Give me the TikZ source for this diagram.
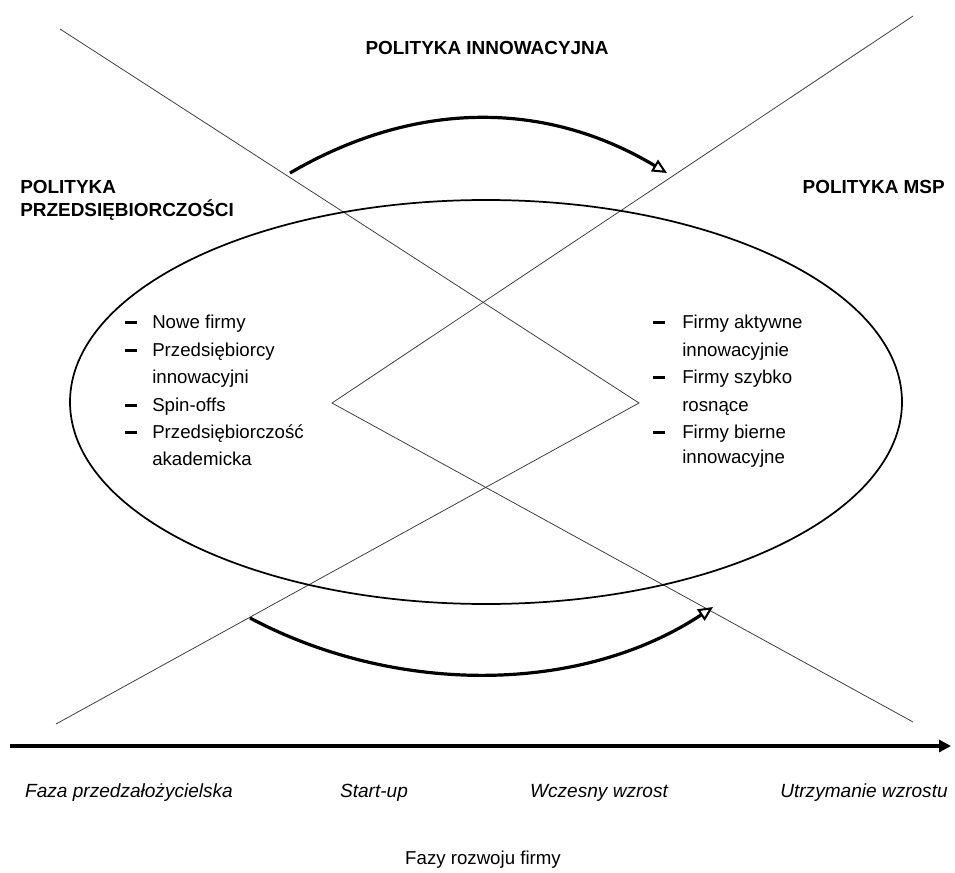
\documentclass[tikz,border=0pt]{standalone}
\usepackage{fontspec}
\setmainfont{Liberation Sans}
\usetikzlibrary{arrows.meta}
\begin{document}
\begin{tikzpicture}[x=0.75pt,y=-0.75pt,
  lbl/.style={inner sep=0pt,font=\fontsize{14}{16}\selectfont},
  ttl/.style={inner sep=0pt,font=\fontsize{14.2}{16}\selectfont\bfseries},
  phase/.style={inner sep=0pt,font=\fontsize{14.3}{16}\selectfont\itshape},
  bar/.style={inner sep=0pt,font=\fontsize{14}{16}\selectfont},
  diag/.style={line width=0.6pt,black!75},
  bigarrow/.style={line width=2.4pt,-{Triangle[open,length=11pt,width=10pt,line width=1.5pt]}}]
\useasboundingbox (0,0) rectangle (955,873);

% chevrons forming the X and the diamond
\coordinate (TL) at (60,29);
\coordinate (TR) at (913,16);
\coordinate (BL) at (56,724);
\coordinate (BR) at (913,722);
\coordinate (LV) at (332,403);
\coordinate (RV) at (639,403);
\draw[diag] (TR) -- (LV) -- (BR);
\draw[diag] (TL) -- (RV) -- (BL);

% ellipse
\draw[line width=1.3pt] (486,402) ellipse [x radius=312pt, y radius=151.5pt];

% curved arrows
\coordinate (a1s) at (290,173);
\coordinate (a1e) at (667,173);
\draw[bigarrow] (a1s) .. controls (415,100) and (545,100) .. (a1e);
\coordinate (a2s) at (250,618);
\coordinate (a2e) at (713,607);
\draw[bigarrow] (a2s) .. controls (395,695) and (580,695) .. (a2e);

% axis
\coordinate (ax0) at (10,746);
\coordinate (ax1) at (951,746);
\draw[line width=3pt,-{Triangle[length=9pt,width=9pt]}] (ax0) -- (ax1);

% titles
\node[ttl,anchor=base] (tin) at (487,55) {POLITYKA INNOWACYJNA};
\node[ttl,anchor=base west] (tp1) at (20,194) {POLITYKA};
\node[ttl,anchor=base west] (tp2) at (20,217) {PRZEDSIĘBIORCZOŚCI};
\node[ttl,anchor=base east] (tmsp) at (945,194) {POLITYKA MSP};

% left list
\node[bar,anchor=base west] (ld1) at (125,328) {\rule[0.22em]{9pt}{2.3pt}};
\node[lbl,anchor=base west] (l1) at (152,328) {Nowe firmy};
\node[bar,anchor=base west] (ld2) at (125,356) {\rule[0.22em]{9pt}{2.3pt}};
\node[lbl,anchor=base west] (l2) at (152,356) {Przedsiębiorcy};
\node[lbl,anchor=base west] (l3) at (152,383) {innowacyjni};
\node[bar,anchor=base west] (ld3) at (125,411) {\rule[0.22em]{9pt}{2.3pt}};
\node[lbl,anchor=base west] (l4) at (152,411) {Spin-offs};
\node[bar,anchor=base west] (ld4) at (125,438) {\rule[0.22em]{9pt}{2.3pt}};
\node[lbl,anchor=base west] (l5) at (152,438) {Przedsiębiorczość};
\node[lbl,anchor=base west] (l6) at (152,465) {akademicka};

% right list
\node[bar,anchor=base west] (rd1) at (653,328) {\rule[0.22em]{9pt}{2.3pt}};
\node[lbl,anchor=base west] (r1) at (682,328) {Firmy aktywne};
\node[lbl,anchor=base west] (r2) at (682,356) {innowacyjnie};
\node[bar,anchor=base west] (rd2) at (653,383) {\rule[0.22em]{9pt}{2.3pt}};
\node[lbl,anchor=base west] (r3) at (682,383) {Firmy szybko};
\node[lbl,anchor=base west] (r4) at (682,411) {rosnące};
\node[bar,anchor=base west] (rd3) at (653,438) {\rule[0.22em]{9pt}{2.3pt}};
\node[lbl,anchor=base west] (r5) at (682,438) {Firmy bierne};
\node[lbl,anchor=base west] (r6) at (682,463) {innowacyjne};

% phases
\node[phase,anchor=base] (p1) at (129,797) {Faza przedzałożycielska};
\node[phase,anchor=base] (p2) at (374,797) {Start-up};
\node[phase,anchor=base] (p3) at (599,797) {Wczesny wzrost};
\node[phase,anchor=base] (p4) at (864,797) {Utrzymanie wzrostu};
\node[lbl,anchor=base] (fz) at (483,864) {Fazy rozwoju firmy};
\end{tikzpicture}
\end{document}
